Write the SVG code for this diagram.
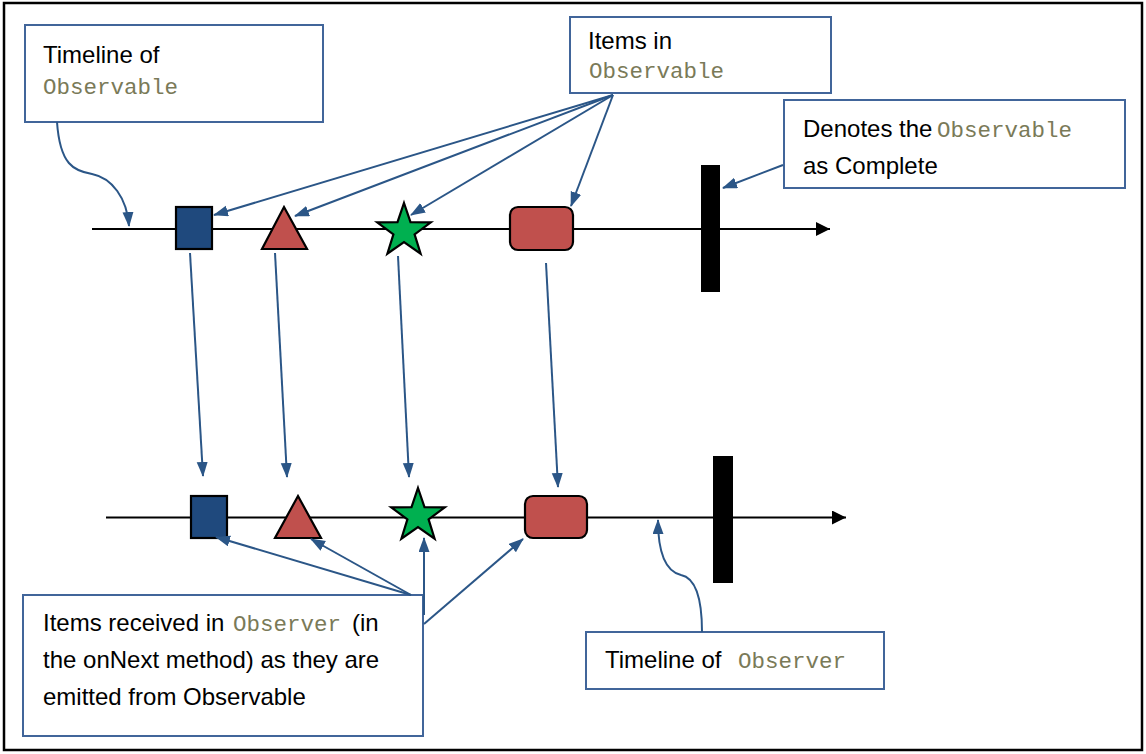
<svg xmlns="http://www.w3.org/2000/svg" width="1146" height="754" viewBox="0 0 1146 754">
<defs>
<style>
.box{fill:#fff;stroke:#41659a;stroke-width:2}
.t{font-family:"Liberation Sans",Arial,sans-serif;font-size:24px;fill:#000}
.m{font-family:"Liberation Mono","DejaVu Sans Mono",monospace;font-size:22.5px;fill:#7a7a58}
.c{fill:none;stroke:#2b5687;stroke-width:2}
.tl{stroke:#000;stroke-width:2}
.shape{stroke:#000;stroke-width:2.2;stroke-linejoin:miter}
</style>
<marker id="ah" markerUnits="userSpaceOnUse" markerWidth="16" markerHeight="12" refX="14" refY="5.5" orient="auto">
<path d="M0,0 L15,5.5 L0,11 z" fill="#2b5687"/>
</marker>
<marker id="tah" markerUnits="userSpaceOnUse" markerWidth="16" markerHeight="16" refX="14" refY="7" orient="auto">
<path d="M0,0 L14,7 L0,14 z" fill="#000"/>
</marker>
</defs>
<rect x="0" y="0" width="1146" height="754" fill="#fff"/>
<rect x="4" y="3" width="1138" height="747" fill="none" stroke="#000" stroke-width="2.5"/>

<g id="timeline-top">
<line class="tl" x1="92" y1="229" x2="830" y2="229" marker-end="url(#tah)"/>
</g>
<g id="timeline-bottom">
<line class="tl" x1="106" y1="517.5" x2="846" y2="517.5" marker-end="url(#tah)"/>
</g>

<g id="top-square"><rect class="shape" x="176" y="207" width="36" height="42" fill="#1f497d"/></g>
<g id="top-triangle"><polygon class="shape" points="284,207 307,249 262,249" fill="#c0504d"/></g>
<g id="top-star"><polygon class="shape" fill="#00b050" points="404,203 410.5,222.1 430.8,222.3 414.6,234.4 420.6,253.7 404,242 387.4,253.7 393.4,234.4 377.2,222.3 397.5,222.1"/></g>
<g id="top-rrect"><rect class="shape" x="510" y="207" width="63" height="43" rx="8" fill="#c0504d"/></g>
<g id="top-complete"><rect x="701" y="165" width="19" height="127" fill="#000"/></g>

<g id="bottom-square"><rect class="shape" x="191" y="496" width="36" height="42" fill="#1f497d"/></g>
<g id="bottom-triangle"><polygon class="shape" points="298,496 321,538 275,538" fill="#c0504d"/></g>
<g id="bottom-star"><polygon class="shape" fill="#00b050" points="418,488 424.5,507.1 444.8,507.3 428.6,519.4 434.6,538.7 418,527 401.4,538.7 407.4,519.4 391.2,507.3 411.5,507.1"/></g>
<g id="bottom-rrect"><rect class="shape" x="525" y="496" width="62" height="42" rx="8" fill="#c0504d"/></g>
<g id="bottom-complete"><rect x="713" y="456" width="20" height="127" fill="#000"/></g>

<g id="label-timeline-observable">
<rect class="box" x="25" y="25" width="298" height="97"/>
<text class="t" x="43" y="63">Timeline of</text>
<text class="m" x="43" y="94">Observable</text>
</g>
<g id="label-items-in-observable">
<rect class="box" x="570" y="17" width="261" height="76"/>
<text class="t" x="588" y="49">Items in</text>
<text class="m" x="589" y="78">Observable</text>
</g>
<g id="label-complete">
<rect class="box" x="784" y="100" width="341" height="88"/>
<text class="t" x="803" y="137">Denotes the</text>
<text class="m" x="937" y="137">Observable</text>
<text class="t" x="803" y="174">as Complete</text>
</g>
<g id="label-items-received">
<rect class="box" x="23" y="595" width="400" height="141"/>
<text class="t" x="43" y="631">Items received in</text>
<text class="m" x="233" y="631">Observer</text>
<text class="t" x="352" y="631">(in</text>
<text class="t" x="43" y="668">the onNext method) as they are</text>
<text class="t" x="43" y="705">emitted from Observable</text>
</g>
<g id="label-timeline-observer">
<rect class="box" x="586" y="632" width="298" height="57"/>
<text class="t" x="605" y="668">Timeline of</text>
<text class="m" x="738" y="668">Observer</text>
</g>

<g id="connectors">
<path class="c" d="M57,122 C60,165 74,171 92,174 C112,178 127,198 129,226" marker-end="url(#ah)"/>
<line class="c" x1="613" y1="95" x2="214" y2="215" marker-end="url(#ah)"/>
<line class="c" x1="613" y1="95" x2="295" y2="216" marker-end="url(#ah)"/>
<line class="c" x1="613" y1="95" x2="411" y2="215" marker-end="url(#ah)"/>
<line class="c" x1="613" y1="95" x2="571" y2="206" marker-end="url(#ah)"/>
<line class="c" x1="783" y1="165" x2="723" y2="188" marker-end="url(#ah)"/>
<line class="c" x1="190" y1="253" x2="203" y2="476" marker-end="url(#ah)"/>
<line class="c" x1="275" y1="253" x2="287" y2="477" marker-end="url(#ah)"/>
<line class="c" x1="398" y1="256" x2="409" y2="477" marker-end="url(#ah)"/>
<line class="c" x1="546" y1="263" x2="558" y2="487" marker-end="url(#ah)"/>
<line class="c" x1="411" y1="595" x2="216" y2="537" marker-end="url(#ah)"/>
<line class="c" x1="411" y1="595" x2="311" y2="539" marker-end="url(#ah)"/>
<line class="c" x1="424" y1="615" x2="424" y2="538" marker-end="url(#ah)"/>
<line class="c" x1="424" y1="624" x2="523" y2="539" marker-end="url(#ah)"/>
<path class="c" d="M702,632 C702,598 696,578 681,575 C664,571 658,550 658,520" marker-end="url(#ah)"/>
</g>
</svg>
